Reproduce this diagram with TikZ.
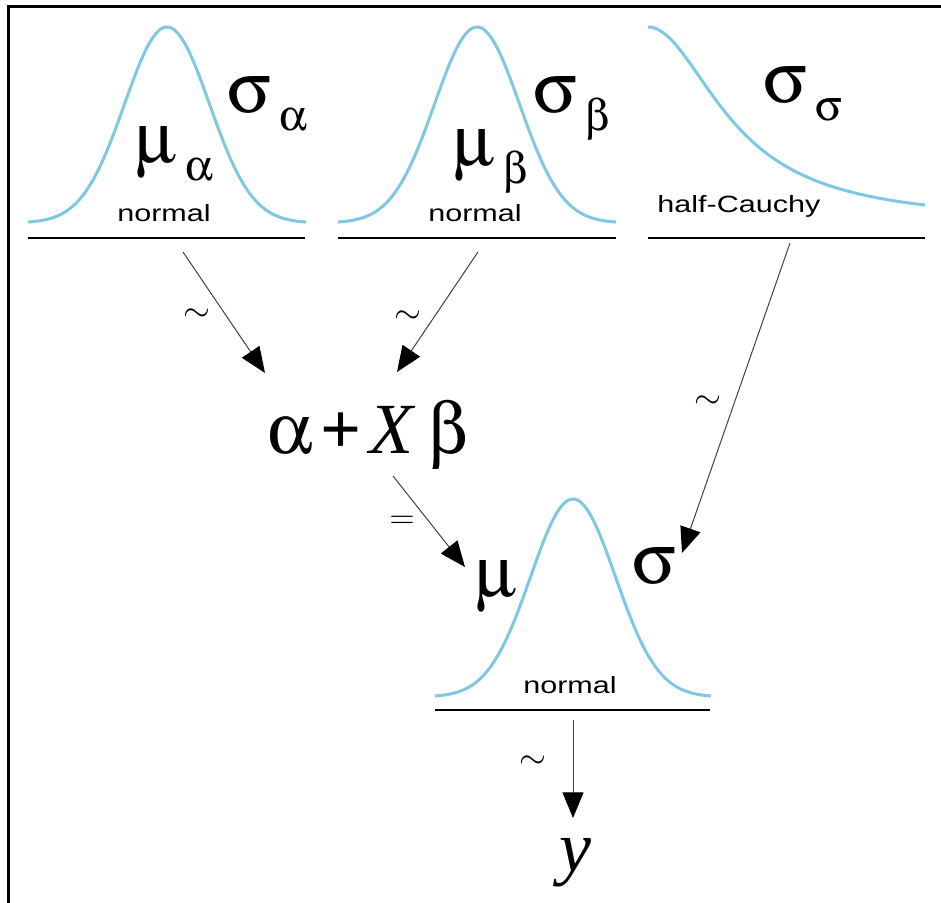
\documentclass[tikz,border=0pt]{standalone}
\usepackage{fontspec}
\usepackage[Symbol]{upgreek}
\setmainfont{Liberation Serif}
\newfontfamily\distfont{Liberation Sans}
\usetikzlibrary{arrows.meta}
\definecolor{colorCurve}{HTML}{7EC8E3}
\def\colorCurve{colorCurve}
% parameter with a lowered subscript
\newcommand{\parsub}[2]{$#1$\hspace{0.12em}\raisebox{-0.25em}{\fontsize{22}{24}\selectfont $#2$}}
\newcommand{\distname}[1]{\scalebox{1.3}[1]{#1}}

\begin{document}
\begin{tikzpicture}[x=0.5pt,y=-0.5pt,
  dens/.style={color=\colorCurve, line width=1.5pt, line join=round},
  baseline rule/.style={line width=1pt},
  link/.style={draw=black!75, line width=0.5pt, -{Triangle[length=12.8pt,width=10.5pt,color=black]}},
  param/.style={font=\fontsize{36}{40}\selectfont, inner sep=0pt},
  dist/.style={font=\distfont\fontsize{11.75}{14}\selectfont, inner sep=0pt},
  rel/.style={font=\fontsize{18}{20}\selectfont, inner sep=0pt}
]
\useasboundingbox (0,0) rectangle (941,903);

% Cadre (bords gauche et haut)
\draw[line width=1.5pt] (8,903) -- (8,7) -- (941,7);

% Densite normale pour alpha
\draw[dens] plot[domain=-139:139, samples=90] ({167+\x},{223-196*exp(-(\x/42.5)^2/2)});
\draw[baseline rule] (28,238) -- (305,238);
\node[dist, anchor=base] (nA) at (164,222) {\distname{normal}};
\node[param, anchor=base west] (muA) at (135,163) {\parsub{\upmu}{\upalpha}};
\node[param, anchor=base west] (sdA) at (227,113) {\parsub{\upsigma}{\upalpha}};

% Densite normale pour beta
\draw[dens] plot[domain=-139:139, samples=90] ({477+\x},{223-196*exp(-(\x/42.5)^2/2)});
\draw[baseline rule] (338,238) -- (616,238);
\node[dist, anchor=base] (nB) at (475,222) {\distname{normal}};
\node[param, anchor=base west] (muB) at (453,166) {\parsub{\upmu}{\upbeta}};
\node[param, anchor=base west] (sdB) at (533,113) {\parsub{\upsigma}{\upbeta}};

% Densite demi-Cauchy pour sigma
\draw[dens] plot[domain=0:277, samples=90] ({648+\x},{223-196/(1+(\x/88)^2)});
\draw[baseline rule] (648,238) -- (925,238);
\node[dist, anchor=base west] (hC) at (657,213) {\distname{half-Cauchy}};
\node[param, anchor=base west] (sdS) at (763,103) {\parsub{\upsigma}{\upsigma}};

% Predicteur lineaire
\node[param, anchor=base west] (lin) at (267,453)
  {$\upalpha$\hspace{0.1em}\textbf{+}\hspace{0.12em}\textit{X}\hspace{0.18em}$\upbeta$};

% Densite normale pour y
\draw[dens] plot[domain=-138:138, samples=90] ({573+\x},{697-198*exp(-(\x/42.5)^2/2)});
\draw[baseline rule] (435,710) -- (710,710);
\node[dist, anchor=base] (nY) at (570,693) {\distname{normal}};
\node[param, anchor=base west] (mu) at (475,596) {$\upmu$};
\node[param, anchor=base west] (sd) at (632,583) {$\upsigma$};
\node[param, anchor=base] (y) at (575,871) {\textit{y}};

% Points de depart et d'arrivee des fleches
\coordinate (fromA) at (183,252);
\coordinate (toLinA) at (265,373);
\coordinate (fromB) at (478,252);
\coordinate (toLinB) at (397,372);
\coordinate (fromLin) at (393,476);
\coordinate (toMu) at (465,567);
\coordinate (fromS) at (790,243);
\coordinate (toSd) at (682,553);
\coordinate (fromY) at (573,720);
\coordinate (toY) at (573,818);

\draw[link] (fromA) -- (toLinA);
\draw[link] (fromB) -- (toLinB);
\draw[link] (fromLin) -- (toMu);
\draw[link] (fromS) -- (toSd);
\draw[link] (fromY) -- (toY);

% Relations
\node[rel] (tA) at (197,315) {$\sim$};
\node[rel] (tB) at (408,317) {$\sim$};
\node[rel] (eq) at (402,522) {$=$};
\node[rel] (tS) at (708,402) {$\sim$};
\node[rel] (tY) at (533,762) {$\sim$};

\end{tikzpicture}
\end{document}
